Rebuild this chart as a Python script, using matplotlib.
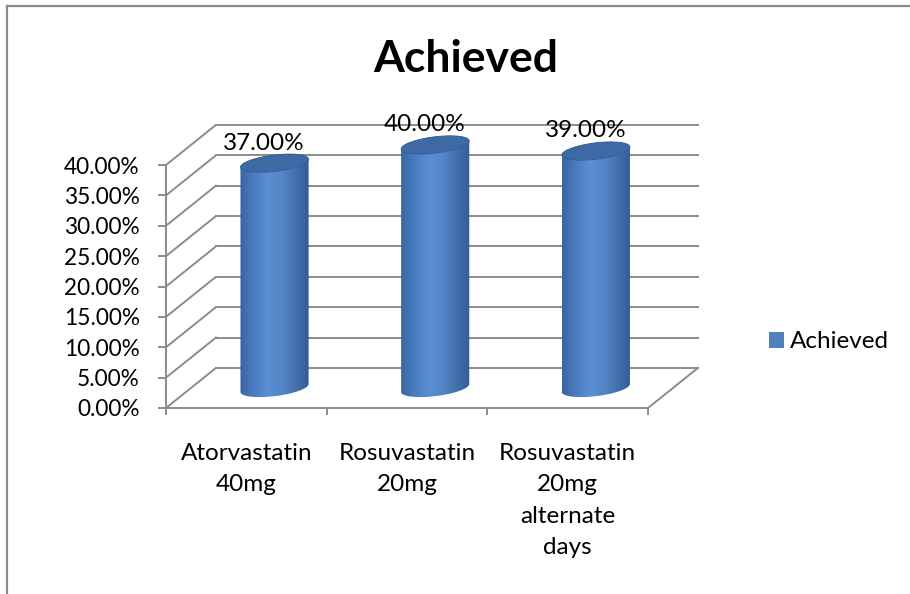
import matplotlib
matplotlib.use("Agg")
import matplotlib.pyplot as plt
from matplotlib.colors import LinearSegmentedColormap
from matplotlib.patches import Polygon, Rectangle
from matplotlib.lines import Line2D
import numpy as np

plt.rcParams["font.family"] = ["Lato", "DejaVu Sans"]

# data
categories = ["Atorvastatin\n40mg", "Rosuvastatin\n20mg",
              "Rosuvastatin\n20mg\nalternate\ndays"]
achieved = [37.0, 40.0, 39.0]
y_ticks = [0, 5, 10, 15, 20, 25, 30, 35, 40]
series_name = "Achieved"

GRAY = "#8c8c8c"
BLUE = "#4f81bd"

# pseudo-3d geometry (data units: x = category, y = percent)
DX, DY = 0.311, 6.6          # depth offset of the back wall
HALF_W = 0.212               # cylinder radius
ELL_B = 1.35                 # ellipse half height
TILT = 3.1                   # ellipse slant (percent per category unit)

fig = plt.figure(figsize=(9.1, 5.94), dpi=100)
# axes box in pixels: x 150..720, y 100..430
ax = fig.add_axes([150 / 910, 1 - 430 / 594, 570 / 910, 330 / 594])
ax.set_xlim((150 - 166) / 160.67, (720 - 166) / 160.67)
ax.set_ylim((408 - 430) / 6.075, (408 - 100) / 6.075)

n = len(categories)
# back wall / side wall / floor grid
for t in y_ticks:
    ax.plot([DX, n + DX], [t + DY, t + DY], color=GRAY, lw=1.4, zorder=1)
    ax.plot([0, DX], [t, t + DY], color=GRAY, lw=1.4, zorder=1)
ax.plot([n, n + DX], [0, DY], color=GRAY, lw=1.4, zorder=1)

cmap = LinearSegmentedColormap.from_list(
    "cyl", ["#3a65a2", "#4a7dbf", "#5a8ed2", "#5487c8", "#4472ad", "#345c93"])


def ellipse_pts(xc, yc, t):
    xs = xc + HALF_W * np.cos(t)
    ys = yc + ELL_B * np.sin(t) + TILT * HALF_W * np.cos(t)
    return xs, ys


for i, v in enumerate(achieved):
    xc = i + 0.52 + DX / 2
    y0 = DY / 2
    y1 = DY / 2 + v
    # body outline: lower front arc of base, then upper arc of top
    tb = np.linspace(np.pi, 2 * np.pi, 60)
    bx, by = ellipse_pts(xc, y0, tb)
    tt = np.linspace(0, np.pi, 60)
    tx, ty = ellipse_pts(xc, y1, tt)
    body = Polygon(np.column_stack([np.r_[bx, tx], np.r_[by, ty]]),
                   closed=True, facecolor="none", edgecolor="none")
    ax.add_patch(body)
    grad = np.linspace(0, 1, 256)[None, :]
    im = ax.imshow(grad, cmap=cmap, aspect="auto", zorder=3,
                   extent=[xc - HALF_W, xc + HALF_W, y0 - 3, y1 + 3],
                   origin="lower")
    im.set_clip_path(body)
    ta = np.linspace(0, 2 * np.pi, 100)
    ex, ey = ellipse_pts(xc, y1, ta)
    ax.add_patch(Polygon(np.column_stack([ex, ey]), closed=True,
                         facecolor="#3d69a5", edgecolor="#365f96",
                         lw=0.6, zorder=4))
    ax.annotate(f"{v:.2f}%", xy=(xc, y1), xytext=(-7.5, 14.5),
                textcoords="offset points", ha="center", va="center",
                fontsize=17.5, zorder=5)

# axes
for s in ["top", "right"]:
    ax.spines[s].set_visible(False)
ax.spines["left"].set_position(("data", 0))
ax.spines["left"].set_bounds(0, 40)
ax.spines["bottom"].set_position(("data", 0))
ax.spines["bottom"].set_bounds(0, n)
for s in ["left", "bottom"]:
    ax.spines[s].set_color(GRAY)
    ax.spines[s].set_linewidth(1.4)

ax.set_yticks(y_ticks)
ax.set_yticklabels([f"{t:.2f}%" for t in y_ticks])
ax.tick_params(axis="y", direction="out", length=6, width=1.4, color=GRAY,
               pad=13, labelsize=16.3)
ax.set_xticks(range(n + 1))
ax.set_xticklabels([""] * (n + 1))
ax.tick_params(axis="x", which="major", direction="out", length=5,
               width=1.4, color=GRAY)
ax.set_xticks([i + 0.5 for i in range(n)], minor=True)
ax.set_xticklabels(categories, minor=True)
ax.tick_params(axis="x", which="minor", length=0, pad=25, labelsize=17.5)
for lbl in ax.get_xticklabels(minor=True):
    lbl.set_linespacing(1.62)

handle = Rectangle((0, 0), 1, 1, facecolor=BLUE, edgecolor="none")
fig.legend([handle], [series_name], loc="center left",
           bbox_to_anchor=(769 / 910, 1 - 342 / 594), frameon=False,
           fontsize=17.5, handlelength=0.6, handleheight=0.6,
           handletextpad=0.25, borderpad=0, borderaxespad=0)

fig.text(466 / 910, 1 - 59 / 594, "Achieved", ha="center", va="center",
         fontsize=32, fontweight="bold")

# chart border (clipped at right and bottom like the source)
fig.add_artist(Line2D([7 / 910, 7 / 910], [0, 1 - 6 / 594],
                      color="#8a8a8a", lw=1.6, transform=fig.transFigure))
fig.add_artist(Line2D([7 / 910, 1], [1 - 6 / 594, 1 - 6 / 594],
                      color="#8a8a8a", lw=1.6, transform=fig.transFigure))

fig.savefig("out.png", dpi=100)
